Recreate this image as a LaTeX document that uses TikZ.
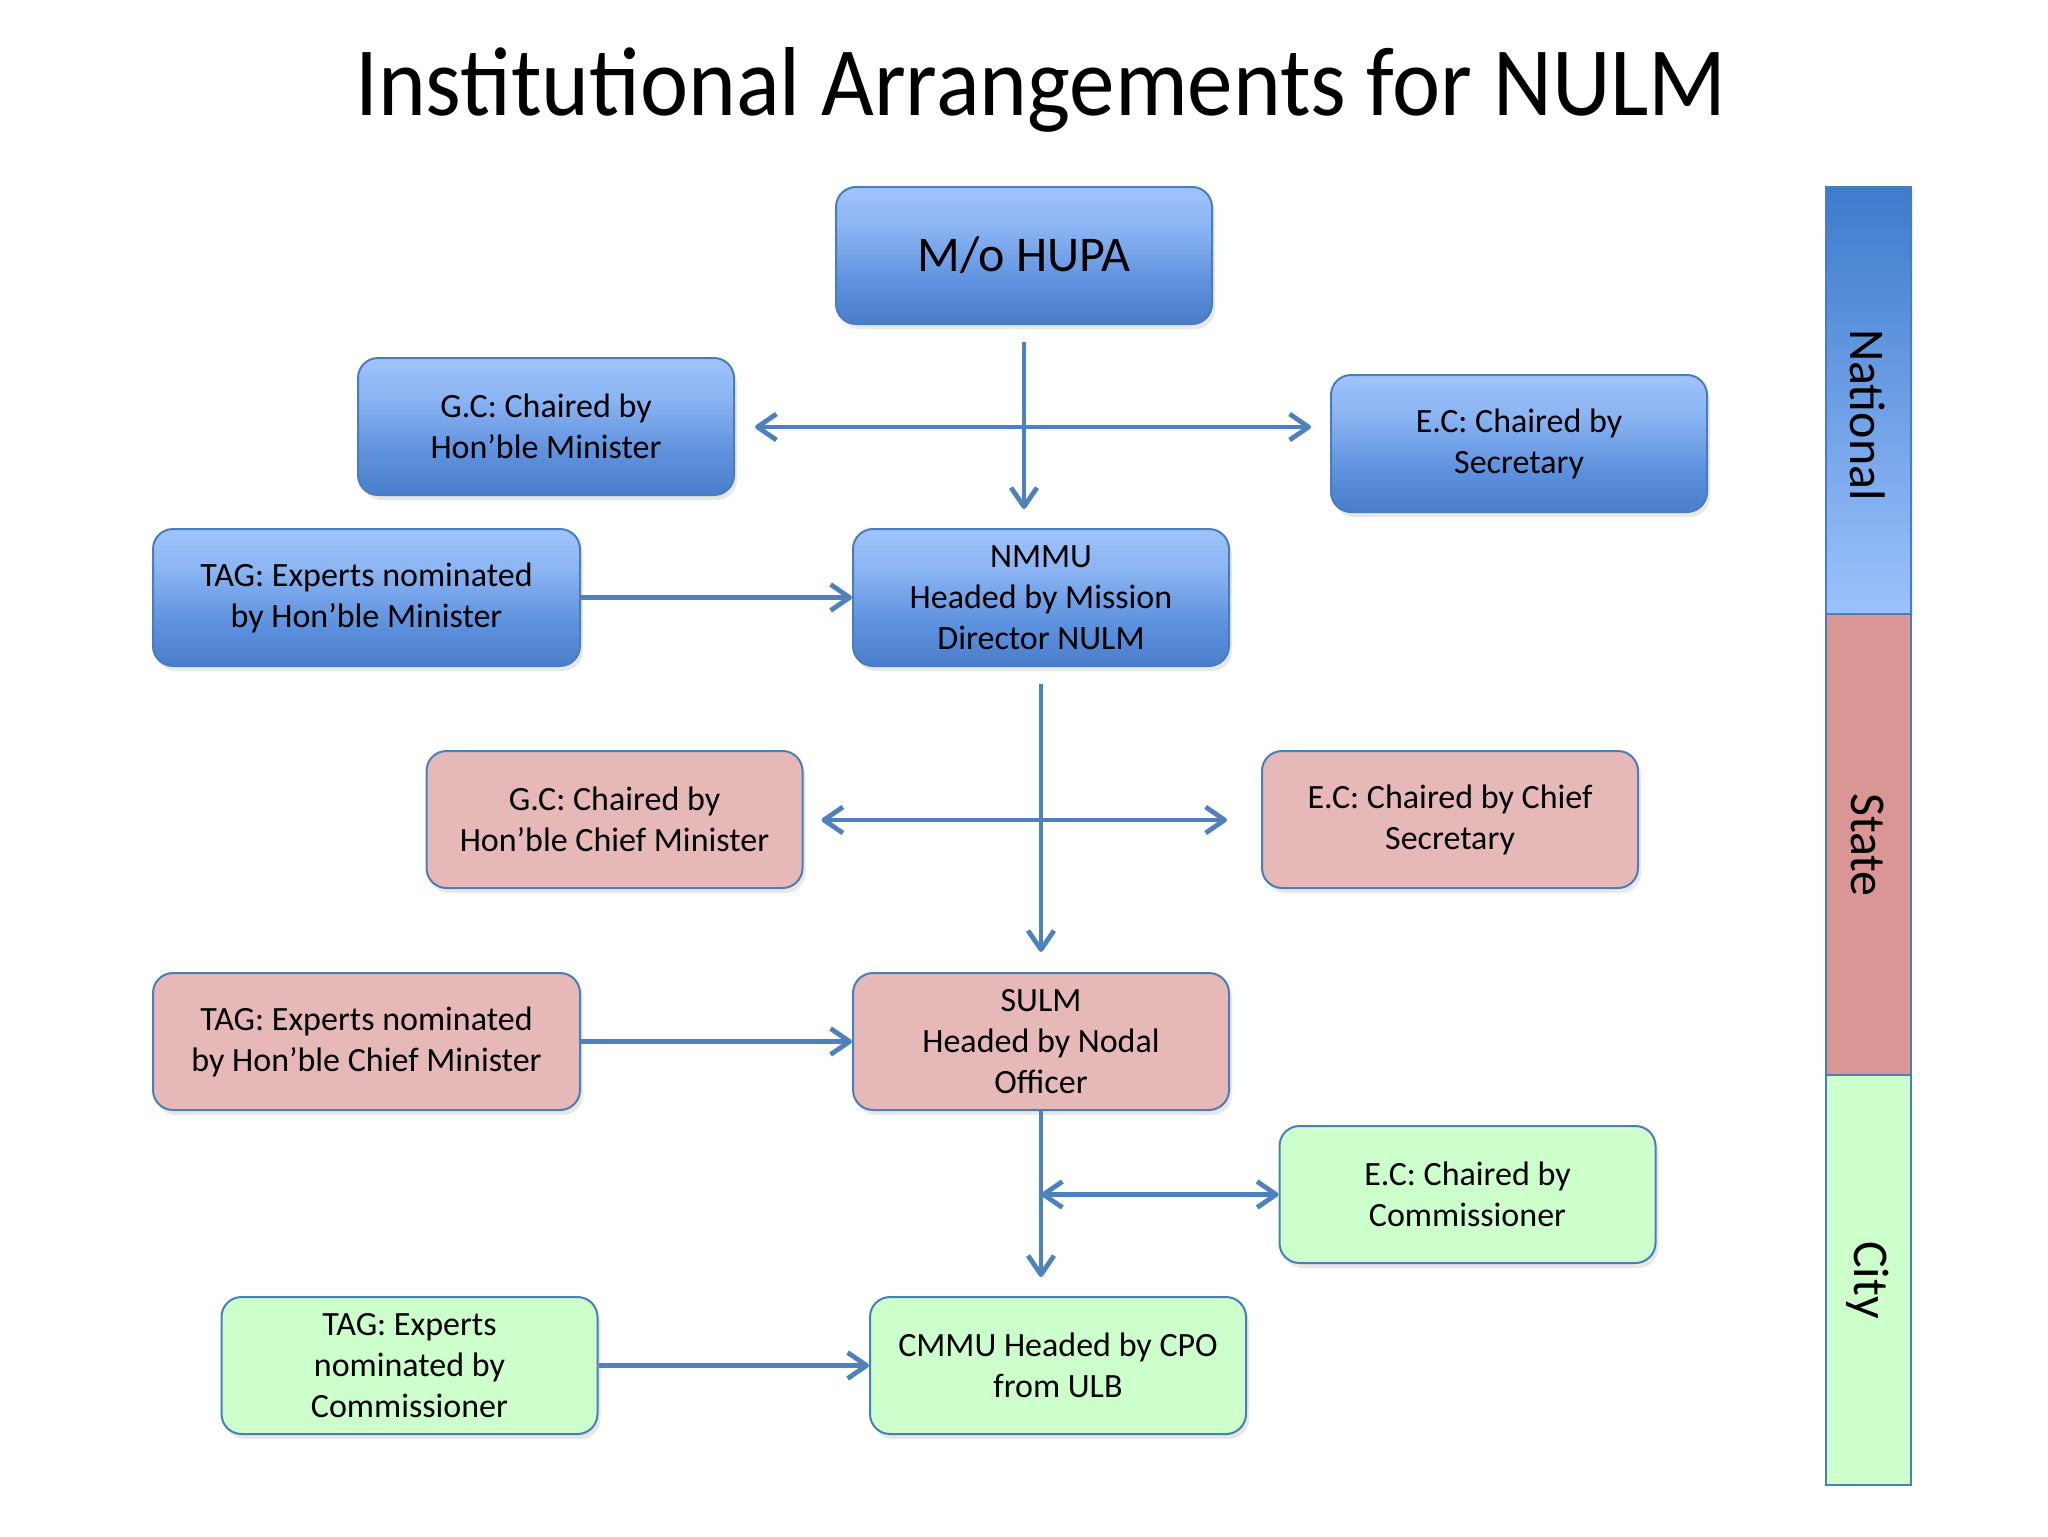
\documentclass[tikz,border=0pt]{standalone}
\usepackage{fontspec}
\setmainfont{Carlito}
\usetikzlibrary{arrows.meta,shadows}
\definecolor{edgeblue}{HTML}{4A7EBB}
\definecolor{arrblue}{HTML}{4F81BD}
\definecolor{bluetop}{HTML}{A0C3FC}
\definecolor{bluemidA}{HTML}{8AB4F2}
\definecolor{bluemidB}{HTML}{5D90DD}
\definecolor{bluebot}{HTML}{4A7ECB}
\definecolor{pinkfill}{HTML}{E6B9B8}
\definecolor{greenfill}{HTML}{CCFFCC}
\definecolor{nattop}{HTML}{3E7BCC}
\definecolor{natbot}{HTML}{9CC2FD}
\definecolor{statefill}{HTML}{D99694}
\pgfdeclareverticalshading{boxshade}{100bp}{color(0bp)=(bluebot); color(25bp)=(bluebot); color(40bp)=(bluemidB); color(60bp)=(bluemidA); color(75bp)=(bluetop); color(100bp)=(bluetop)}
\pgfdeclareverticalshading{natshade}{100bp}{color(0bp)=(natbot); color(25bp)=(natbot); color(75bp)=(nattop); color(100bp)=(nattop)}
\begin{document}
\begin{tikzpicture}[x=0.5pt,y=-0.5pt,
  box/.style={draw=edgeblue, line width=1pt, rounded corners=10pt,
    minimum width=188pt, minimum height=68.5pt, align=center, inner sep=0pt,
    font=\fontsize{17}{20.5}\selectfont,
    drop shadow={opacity=0.18, shadow xshift=1.5pt, shadow yshift=-2.5pt}},
  bluebox/.style={box, shading=boxshade},
  pinkbox/.style={box, fill=pinkfill},
  greenbox/.style={box, fill=greenfill},
  widebox/.style={minimum width=213.5pt},
  arr/.style={draw=arrblue, line width=2.4pt, -{Straight Barb[length=9.5pt,width=13pt,line join=round]}},
  darr/.style={draw=arrblue, line width=2.4pt, {Straight Barb[length=9.5pt,width=13pt,line join=round]}-{Straight Barb[length=9.5pt,width=13pt,line join=round]}},
  band/.style={draw=edgeblue, line width=0.8pt},
  bandtext/.style={rotate=-90, font=\fontsize{25}{30}\selectfont}
]
\fill[white] (0,0) rectangle (2048,1536);
\useasboundingbox (0,0) rectangle (2048,1536);

\node[anchor=base, font=\fontsize{49}{59}\selectfont] (title) at (1041,115) {\scalebox{0.93}[1]{Institutional Arrangements for NULM}};

% National level
\node[bluebox, font=\fontsize{25}{29}\selectfont] (hupa) at (1024,255.5) {M/o HUPA};
\node[bluebox] (gcn) at (546,426.5) {G.C: Chaired by\\Hon’ble Minister};
\node[bluebox] (ecn) at (1519,443.5) {E.C: Chaired by\\Secretary};
\node[bluebox, widebox] (tagn) at (366.5,597.5) {TAG: Experts nominated\\by Hon’ble Minister};
\node[bluebox] (nmmu) at (1041,597.5) {NMMU\\Headed by Mission\\Director NULM};

% State level
\node[pinkbox] (gcs) at (614.5,819.5) {G.C: Chaired by\\Hon’ble Chief Minister};
\node[pinkbox] (ecs) at (1450,819.5) {E.C: Chaired by Chief\\Secretary};
\node[pinkbox, widebox] (tags) at (366.5,1041.5) {TAG: Experts nominated\\by Hon’ble Chief Minister};
\node[pinkbox] (sulm) at (1041,1041.5) {SULM\\Headed by Nodal\\Officer};

% City level
\node[greenbox] (ecc) at (1467.5,1194.5) {E.C: Chaired by\\Commissioner};
\node[greenbox] (tagc) at (409.5,1365.5) {TAG: Experts\\nominated by\\Commissioner};
\node[greenbox] (cmmu) at (1058,1365.5) {CMMU Headed by CPO\\from ULB};

% connectors
\coordinate (h1) at (1024,427);
\draw[arr, shorten <=8.5pt, shorten >=9.5pt] (hupa.south) -- (hupa.south |- nmmu.north);
\draw[darr, shorten <=10pt, shorten >=9.5pt] (gcn.east |- h1) -- (ecn.west |- h1);
\draw[arr] (tagn.east) -- (nmmu.west);

\coordinate (h2) at (1041,820);
\draw[arr, shorten <=8.5pt, shorten >=10pt] (nmmu.south) -- (sulm.north);
\draw[darr, shorten <=9pt, shorten >=17pt] (gcs.east |- h2) -- (ecs.west |- h2);
\draw[arr] (tags.east) -- (sulm.west);

\coordinate (j3) at (sulm.south |- ecc.west);
\draw[arr, shorten >=9.5pt] (sulm.south) -- (sulm.south |- cmmu.north);
\draw[darr] (j3) -- (ecc.west);
\draw[arr] (tagc.east) -- (cmmu.west);

% side bar
\path[shading=natshade, drop shadow={opacity=0.15, shadow xshift=1pt, shadow yshift=-1.5pt}] (1826,187) rectangle (1911,614);
\fill[statefill] (1826,614) rectangle (1911,1075);
\fill[greenfill] (1826,1075) rectangle (1911,1485);
\draw[band] (1826,187) rectangle (1911,614);
\draw[band] (1826,614) rectangle (1911,1075);
\draw[band] (1826,1075) rectangle (1911,1485);
\node[bandtext] (national) at (1868,415) {National};
\node[bandtext] (state) at (1868,845) {State};
\node[bandtext] (city) at (1868,1280) {City};
\end{tikzpicture}
\end{document}
